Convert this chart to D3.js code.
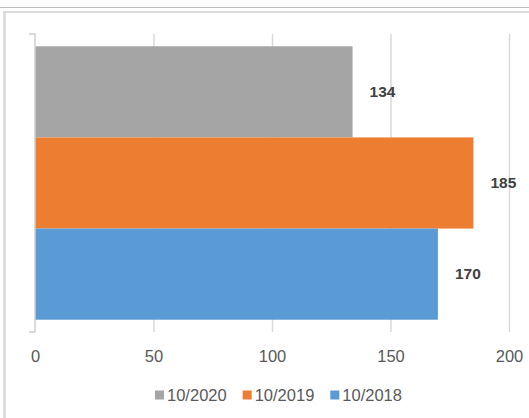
<!DOCTYPE html>
<html>
<head>
<meta charset="utf-8">
<script src="https://cdnjs.cloudflare.com/ajax/libs/d3/7.8.5/d3.min.js"></script>
<style>
  body { margin: 0; background: #fff; }
  svg { display: block; font-family: "Liberation Sans", Arial, sans-serif; }
</style>
</head>
<body>
<div id="container"></div>
<script>
// data
var series = ["10/2020", "10/2019", "10/2018"];
var values = [134, 185, 170];
var colors = ["#a5a5a5", "#ed7d31", "#5b9bd5"];
var xTicks = [0, 50, 100, 150, 200];

var width = 529;
var height = 418;
var plot = { left: 35, right: 509, top: 34, bottom: 332 };

var svg = d3.select("#container")
    .append("svg")
    .attr("width", width)
    .attr("height", height);

// frame lines of the chart area
svg.append("line").attr("x1", 0).attr("x2", width).attr("y1", 7.5).attr("y2", 7.5)
    .attr("stroke", "#bdbdbd").attr("stroke-width", 1.2);
svg.append("line").attr("x1", 3).attr("x2", width).attr("y1", 12).attr("y2", 12)
    .attr("stroke", "#dcdcdc").attr("stroke-width", 2);
svg.append("line").attr("x1", 4.5).attr("x2", 4.5).attr("y1", 11).attr("y2", height)
    .attr("stroke", "#d9d9d9").attr("stroke-width", 2.5);

var x = d3.scaleLinear().domain([0, 200]).range([plot.left, plot.right]);
var y = d3.scaleBand().domain(series).range([plot.top, plot.bottom])
    .paddingInner(0).paddingOuter(0.135);

//gridlines
svg.append("g")
    .attr("class", "grid")
    .attr("transform", "translate(0," + plot.bottom + ")")
    .call(d3.axisBottom(x).tickValues(xTicks.slice(1))
        .tickSize(-(plot.bottom - plot.top)).tickFormat(""))
    .call(g => g.select(".domain").remove())
    .call(g => g.selectAll("line").attr("stroke", "#d9d9d9").attr("stroke-width", 1.5));

// bars
svg.selectAll("rect.bar")
    .data(values)
    .enter()
    .append("rect")
    .attr("class", "bar")
    .attr("x", x(0))
    .attr("y", (d, i) => y(series[i]))
    .attr("width", d => x(d) - x(0))
    .attr("height", y.bandwidth())
    .attr("fill", (d, i) => colors[i]);

// left axis line with the little end brackets
svg.append("g")
    .attr("transform", "translate(" + plot.left + ",0)")
    .call(d3.axisLeft(y).tickValues([]).tickSizeOuter(6))
    .call(g => g.select(".domain").attr("stroke", "#d0d0d0").attr("stroke-width", 1.5))
    .select(".domain").attr("d", "M-6," + plot.top + "H0V" + plot.bottom + "H-6");

// value labels
svg.selectAll("text.value")
    .data(values)
    .enter()
    .append("text")
    .attr("class", "value")
    .attr("x", d => x(d) + 17)
    .attr("y", (d, i) => y(series[i]) + y.bandwidth() / 2 + 5)
    .attr("font-size", "15.5px")
    .attr("font-weight", "bold")
    .attr("fill", "#404040")
    .text(d => d);

// x axis tick labels
svg.append("g")
    .attr("transform", "translate(0," + plot.bottom + ")")
    .call(d3.axisBottom(x).tickValues(xTicks).tickSize(0).tickPadding(18))
    .call(g => g.select(".domain").remove())
    .selectAll("text")
    .attr("font-size", "16.5px")
    .attr("fill", "#595959");

// legend
var legend = svg.append("g").attr("transform", "translate(0,395)");
var items = legend.selectAll("g")
    .data(series)
    .enter()
    .append("g");
items.append("rect")
    .attr("width", 9)
    .attr("height", 9)
    .attr("y", -4.5)
    .attr("fill", (d, i) => colors[i]);
items.append("text")
    .attr("x", 12)
    .attr("y", 6)
    .attr("font-size", "16.5px")
    .attr("fill", "#595959")
    .text(d => d);

var pos = 0, offsets = [];
items.each(function () {
    offsets.push(pos);
    pos += 12 + this.querySelector("text").getComputedTextLength() + 16;
});
var total = pos - 16;
var start = 278.5 - total / 2;
items.attr("transform", (d, i) => "translate(" + (start + offsets[i]) + ",0)");
</script>
</body>
</html>
